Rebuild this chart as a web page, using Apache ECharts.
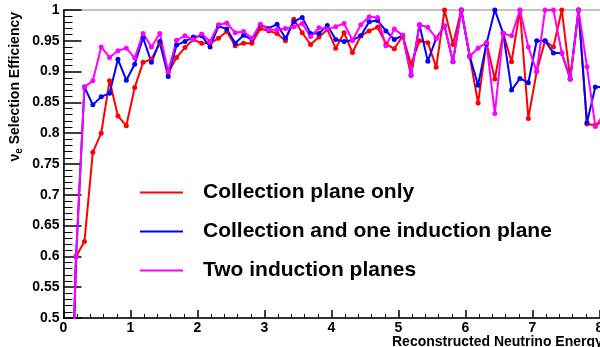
<!DOCTYPE html>
<html>
<head>
<meta charset="utf-8">
<script src="https://cdn.jsdelivr.net/npm/echarts@6/dist/echarts.min.js"></script>
<style>
html,body{margin:0;padding:0;background:#fff;}
#c{width:600px;height:347px;}
</style>
</head>
<body>
<div id="c"></div>
<script>
// Reconstructed neutrino energy bin centres
var energy = [0.0625,0.1875,0.3125,0.4375,0.5625,0.6875,0.8125,0.9375,1.0625,1.1875,1.3125,1.4375,1.5625,1.6875,1.8125,1.9375,
  2.0625,2.1875,2.3125,2.4375,2.5625,2.6875,2.8125,2.9375,3.0625,3.1875,3.3125,3.4375,3.5625,3.6875,3.8125,3.9375,
  4.0625,4.1875,4.3125,4.4375,4.5625,4.6875,4.8125,4.9375,5.0625,5.1875,5.3125,5.4375,5.5625,5.6875,5.8125,5.9375,
  6.0625,6.1875,6.3125,6.4375,6.5625,6.6875,6.8125,6.9375,7.0625,7.1875,7.3125,7.4375,7.5625,7.6875,7.8125,7.9375,8.0625];

var collectionOnly = [0.13,0.600,0.624,0.769,0.800,0.885,0.828,0.812,0.874,0.915,0.920,0.946,0.898,0.923,0.939,0.952,
  0.946,0.946,0.954,0.965,0.942,0.946,0.946,0.970,0.966,0.962,0.950,0.985,0.963,0.944,0.956,0.968,
  0.938,0.963,0.931,0.958,0.966,0.972,0.945,0.937,0.958,0.912,0.950,0.947,0.907,1.000,0.944,1.000,
  0.925,0.849,0.947,0.888,0.962,0.916,1.000,0.824,0.900,0.950,0.940,1.000,0.888,1.000,0.815,0.813,0.820];

var collectionOneInduction = [0.13,0.600,0.875,0.846,0.859,0.865,0.920,0.886,0.912,0.955,0.915,0.949,0.892,0.943,0.949,0.956,
  0.958,0.940,0.974,0.969,0.946,0.959,0.952,0.976,0.970,0.977,0.954,0.981,0.988,0.962,0.962,0.975,
  0.952,0.949,0.951,0.958,0.981,0.983,0.966,0.952,0.959,0.894,0.976,0.917,0.954,0.974,0.916,1.000,
  0.925,0.878,0.945,1.000,0.962,0.870,0.889,0.882,0.950,0.950,0.930,0.930,0.888,1.000,0.817,0.875,0.875];

var twoInduction = [0.13,0.600,0.875,0.885,0.940,0.923,0.934,0.938,0.922,0.962,0.940,0.962,0.900,0.951,0.958,0.952,
  0.961,0.949,0.976,0.979,0.963,0.965,0.954,0.977,0.968,0.968,0.970,0.973,0.978,0.957,0.971,0.969,
  0.973,0.978,0.951,0.976,0.989,0.988,0.942,0.969,0.959,0.894,0.976,0.972,0.954,0.974,0.916,1.000,
  0.925,0.938,0.947,0.832,0.962,0.958,1.000,0.940,0.900,1.000,1.000,0.930,0.888,1.000,0.908,0.811,0.830];

var seriesNames = ['Collection plane only','Collection and one induction plane','Two induction planes'];
var seriesColors = ['#ff0000','#0000ff','#ff00ff'];
var seriesValues = [collectionOnly, collectionOneInduction, twoInduction];

var FONT = 'Liberation Sans';

function pairs(vals){
  var out = [];
  for (var i = 0; i < vals.length; i++) out.push([energy[i], vals[i]]);
  return out;
}

var chart = echarts.init(document.getElementById('c'), null, {renderer:'canvas'});
var series = seriesNames.map(function(n, i){
  return {
    name: n, type: 'line', data: pairs(seriesValues[i]),
    symbol: 'circle', symbolSize: 5, showSymbol: true,
    color: seriesColors[i],
    itemStyle: {color: seriesColors[i]},
    lineStyle: {color: seriesColors[i], width: 2},
    clip: true, animation: false
  };
});

chart.setOption({
  animation: false,
  backgroundColor: '#fff',
  grid: {left: 63.5, top: 10, width: 670, height: 308, show: true, borderColor: '#888', borderWidth: 1,
    backgroundColor: 'transparent', containLabel: false, outerBoundsMode: 'none'},
  xAxis: {
    type: 'value', min: 0, max: 10, interval: 1,
    axisLine: {show: true, onZero: false, lineStyle: {color: '#000', width: 1.5}},
    axisTick: {show: true, inside: true, length: 8, lineStyle: {color: '#000', width: 1.5}},
    minorTick: {show: true, splitNumber: 5, length: 4, lineStyle: {color: '#000', width: 1}},
    axisLabel: {fontFamily: FONT, fontWeight: 'bold', fontSize: 14, color: '#000', margin: 3},
    splitLine: {show: false}
  },
  yAxis: {
    type: 'value', min: 0.5, max: 1, interval: 0.05,
    axisLine: {show: true, onZero: false, lineStyle: {color: '#000', width: 1.5}},
    axisTick: {show: true, inside: true, length: 18, lineStyle: {color: '#000', width: 1.5}},
    minorTick: {show: true, splitNumber: 5, length: 9, lineStyle: {color: '#000', width: 1}},
    axisLabel: {fontFamily: FONT, fontWeight: 'bold', fontSize: 14, color: '#000', margin: 4},
    splitLine: {show: false}
  },
  legend: {
    data: seriesNames, orient: 'vertical', left: 140, top: 182, padding: 0,
    itemWidth: 43, itemHeight: 2, itemGap: 18, icon: 'rect',
    textStyle: {fontFamily: FONT, fontWeight: 'bold', fontSize: 21, color: '#000', lineHeight: 21, padding: [0,0,0,15]},
    selectedMode: false
  },
  graphic: [
    {type: 'text', x: 15, y: 12, rotation: Math.PI/2,
     style: {text: '{a|ν}{s|e}{a| Selection Efficiency}', align: 'right', verticalAlign: 'middle',
       fontFamily: FONT, fontWeight: 'bold', fontSize: 14, fill: '#000',
       rich: {
         a: {fontFamily: FONT, fontWeight: 'bold', fontSize: 14, lineHeight: 18, color: '#000', verticalAlign: 'middle'},
         s: {fontFamily: FONT, fontWeight: 'bold', fontSize: 10, lineHeight: 10, color: '#000', verticalAlign: 'bottom'}
       }}},
    {type: 'text', x: 392, y: 342,
     style: {text: 'Reconstructed Neutrino Energy (GeV)', fontFamily: FONT, fontWeight: 'bold', fontSize: 14, fill: '#000', align: 'left', verticalAlign: 'middle'}}
  ],
  series: series
});
</script>
</body>
</html>
